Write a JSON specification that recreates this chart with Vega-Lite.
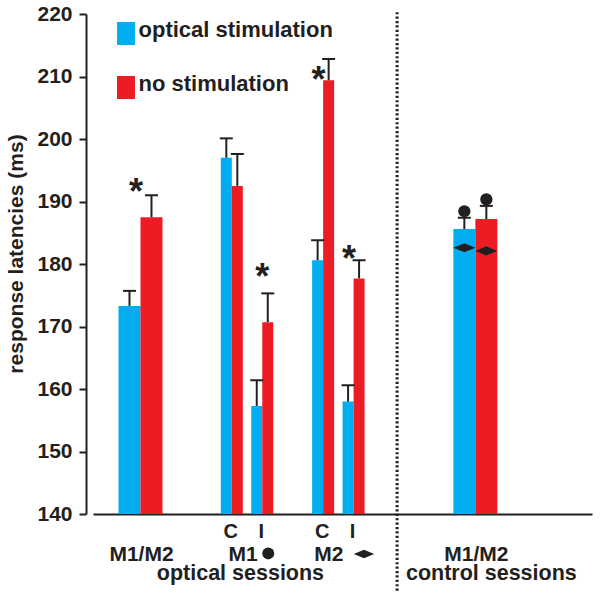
{
"$schema":"https://vega.github.io/schema/vega-lite/v6.json",
"width":506,"height":500,"autosize":"none",
"padding":{"left":86,"top":14,"right":9,"bottom":85},
"config":{
 "view":{"stroke":null},
 "font":"Liberation Sans",
 "axisX":{"labels":false,"ticks":false,"grid":false,"domainColor":"#231f20","domainWidth":2,"domainDash":[0,7,499,0],"domainCap":"butt"},
 "axisY":{"grid":false,"domainColor":"#231f20","domainWidth":2,"tickColor":"#231f20","tickWidth":2,"tickSize":7,"labelFont":"Liberation Sans","labelFontWeight":"bold","labelFontSize":21,"labelColor":"#231f20","labelPadding":7,"labelFlush":false,"labelOverlap":false}
},
"datasets":{
 "narrow":[
  {"slot":"M1 C","cond":"optical stimulation","mean":197.0,"err":200.1},
  {"slot":"M1 C","cond":"no stimulation","mean":192.5,"err":197.6},
  {"slot":"M1 I","cond":"optical stimulation","mean":157.3,"err":161.4},
  {"slot":"M1 I","cond":"no stimulation","mean":170.7,"err":175.3},
  {"slot":"M2 C","cond":"optical stimulation","mean":180.6,"err":183.8},
  {"slot":"M2 C","cond":"no stimulation","mean":209.4,"err":212.8},
  {"slot":"M2 I","cond":"optical stimulation","mean":158.0,"err":160.6},
  {"slot":"M2 I","cond":"no stimulation","mean":177.7,"err":180.6}
 ],
 "wide":[
  {"slot":"M1/M2 optical","cond":"optical stimulation","mean":173.3,"err":175.7},
  {"slot":"M1/M2 optical","cond":"no stimulation","mean":187.5,"err":191.0},
  {"slot":"M1/M2 control","cond":"optical stimulation","mean":185.6,"err":187.4,"marker":182.6},
  {"slot":"M1/M2 control","cond":"no stimulation","mean":187.2,"err":189.3,"marker":182.1}
 ]
},
"resolve":{"scale":{"xOffset":"independent"}},
"layer":[
 {"data":{"name":"narrow"},"mark":{"type":"bar"},
  "encoding":{
   "x":{"field":"slot","type":"nominal","axis":{"title":null},"scale":{"domain":["pad L","M1/M2 optical","gap a","gap b","M1 C","M1 I","gap c","M2 C","M2 I","gap d","gap e","gap f","M1/M2 control","pad R1","pad R2","pad R3"],"paddingInner":0,"paddingOuter":0.311,"align":0.466}},
   "xOffset":{"field":"cond","type":"nominal","scale":{"domain":["optical stimulation","no stimulation"],"range":[4.22,26.22]}},
   "y":{"field":"mean","type":"quantitative","scale":{"domain":[140,220],"zero":false,"nice":false},"axis":{"title":"response latencies (ms)","values":[140,150,160,170,180,190,200,210,220],"titleFont":"Liberation Sans","titleFontWeight":"bold","titleFontSize":21,"titleColor":"#231f20","titleX":-64,"titleY":239.5,"titleAlign":"center","titleBaseline":"alphabetic","titleAngle":270}},
   "y2":{"datum":140},
   "color":{"field":"cond","type":"nominal","scale":{"domain":["optical stimulation","no stimulation"],"range":["#00aeef","#ed1c24"]},
     "legend":{"title":null,"orient":"none","legendX":28.5,"legendY":11,"symbolType":"M-0.78,-1.26H0.78V0.74H-0.78Z","symbolSize":529,"symbolStrokeWidth":0,"symbolOpacity":1,"labelFont":"Liberation Sans","labelFontSize":22,"labelFontWeight":"bold","labelColor":"#231f20","labelOffset":1,"rowPadding":26,"padding":0,"labelLimit":400,"labelBaseline":"alphabetic"}}
  }},
 {"data":{"name":"wide"},"mark":{"type":"bar"},
  "encoding":{
   "x":{"field":"slot","type":"nominal","axis":{"title":null}},
   "xOffset":{"field":"cond","type":"nominal","scale":{"domain":["optical stimulation","no stimulation"],"range":[-6.78,37.22]}},
   "y":{"field":"mean","type":"quantitative"},
   "y2":{"datum":140},
   "color":{"field":"cond","type":"nominal",
     "legend":{"title":null,"orient":"none","legendX":28.5,"legendY":11,"symbolType":"M-0.78,-1.26H0.78V0.74H-0.78Z","symbolSize":529,"symbolStrokeWidth":0,"symbolOpacity":1,"labelFont":"Liberation Sans","labelFontSize":22,"labelFontWeight":"bold","labelColor":"#231f20","labelOffset":1,"rowPadding":26,"padding":0,"labelLimit":400,"labelBaseline":"alphabetic"}}
  }},
 {"data":{"name":"narrow"},"mark":{"type":"rule","strokeWidth":2,"color":"#231f20"},
  "encoding":{
   "x":{"field":"slot","type":"nominal","axis":{"title":null}},
   "xOffset":{"field":"cond","type":"nominal","scale":{"domain":["optical stimulation","no stimulation"],"range":[4.22,26.22]}},
   "y":{"field":"mean","type":"quantitative"},
   "y2":{"field":"err"}
  }},
 {"data":{"name":"narrow"},"mark":{"type":"tick","orient":"horizontal","size":13,"thickness":2,"color":"#231f20","opacity":1},
  "encoding":{
   "x":{"field":"slot","type":"nominal","axis":{"title":null}},
   "xOffset":{"field":"cond","type":"nominal","scale":{"domain":["optical stimulation","no stimulation"],"range":[4.22,26.22]}},
   "y":{"field":"err","type":"quantitative"}
  }},
 {"data":{"name":"wide"},"mark":{"type":"rule","strokeWidth":2,"color":"#231f20"},
  "encoding":{
   "x":{"field":"slot","type":"nominal","axis":{"title":null}},
   "xOffset":{"field":"cond","type":"nominal","scale":{"domain":["optical stimulation","no stimulation"],"range":[-6.78,37.22]}},
   "y":{"field":"mean","type":"quantitative"},
   "y2":{"field":"err"}
  }},
 {"data":{"name":"wide"},"mark":{"type":"tick","orient":"horizontal","size":13,"thickness":2,"color":"#231f20","opacity":1},
  "encoding":{
   "x":{"field":"slot","type":"nominal","axis":{"title":null}},
   "xOffset":{"field":"cond","type":"nominal","scale":{"domain":["optical stimulation","no stimulation"],"range":[-6.78,37.22]}},
   "y":{"field":"err","type":"quantitative"}
  }},
 {"data":{"name":"wide"},"transform":[{"filter":"isValid(datum.marker)"}],
  "mark":{"type":"point","shape":"circle","filled":true,"size":150,"color":"#231f20","opacity":1,"yOffset":-6.5},
  "encoding":{
   "x":{"field":"slot","type":"nominal","axis":{"title":null}},
   "xOffset":{"field":"cond","type":"nominal","scale":{"domain":["optical stimulation","no stimulation"],"range":[-6.78,37.22]}},
   "y":{"field":"err","type":"quantitative"}
  }},
 {"data":{"name":"wide"},"transform":[{"filter":"isValid(datum.marker)"}],
  "mark":{"type":"point","shape":"M-1,0L0,-0.42L1,0L0,0.42Z","filled":true,"size":484,"color":"#231f20","opacity":1},
  "encoding":{
   "x":{"field":"slot","type":"nominal","axis":{"title":null}},
   "xOffset":{"field":"cond","type":"nominal","scale":{"domain":["optical stimulation","no stimulation"],"range":[-6.78,37.22]}},
   "y":{"field":"marker","type":"quantitative"}
  }},
 {"data":{"values":[{"slot":"M1/M2 optical","label":"*","y":189.6},{"slot":"M2 C","label":"*","y":207.5},{"slot":"M2 I","label":"*","y":178.9}]},
  "mark":{"type":"text","fontSize":36,"fontWeight":"bold","font":"Liberation Sans","color":"#231f20","baseline":"alphabetic","dx":-4.6},
  "encoding":{"x":{"field":"slot","type":"nominal","axis":{"title":null}},"y":{"field":"y","type":"quantitative"},"text":{"field":"label"}}},
 {"data":{"values":[{"slot":"M1 I","label":"*","y":176.0}]},
  "mark":{"type":"text","fontSize":36,"fontWeight":"bold","font":"Liberation Sans","color":"#231f20","baseline":"alphabetic","dx":0},
  "encoding":{"x":{"field":"slot","type":"nominal","axis":{"title":null}},"y":{"field":"y","type":"quantitative"},"text":{"field":"label"}}},
 {"data":{"values":[{"slot":"gap d","top":220.3,"bottom":127.4}]},
  "mark":{"type":"rule","strokeWidth":3,"strokeDash":[2.2,2.2],"color":"#231f20"},
  "encoding":{"x":{"field":"slot","type":"nominal","bandPosition":0.93,"axis":{"title":null}},"y":{"field":"top","type":"quantitative"},"y2":{"field":"bottom"}}},
 {"data":{"values":[{"slot":"M1 C","label":"C"},{"slot":"M1 I","label":"I"},{"slot":"M2 C","label":"C"},{"slot":"M2 I","label":"I"}]},
  "mark":{"type":"text","fontSize":20,"fontWeight":"bold","font":"Liberation Sans","color":"#231f20","baseline":"alphabetic","dx":-1},
  "encoding":{"x":{"field":"slot","type":"nominal","axis":{"title":null}},"y":{"datum":136.16},"text":{"field":"label"}}},
 {"data":{"values":[{"slot":"M1/M2 optical","label":"M1/M2"},{"slot":"M1/M2 control","label":"M1/M2"}]},
  "mark":{"type":"text","fontSize":21,"fontWeight":"bold","font":"Liberation Sans","color":"#231f20","baseline":"alphabetic","dx":1},
  "encoding":{"x":{"field":"slot","type":"nominal","axis":{"title":null}},"y":{"datum":132.48},"text":{"field":"label"}}},
 {"data":{"values":[{"slot":"M1 C","label":"M1"}]},
  "mark":{"type":"text","fontSize":21,"fontWeight":"bold","font":"Liberation Sans","color":"#231f20","baseline":"alphabetic","dx":-4},
  "encoding":{"x":{"field":"slot","type":"nominal","bandPosition":1,"axis":{"title":null}},"y":{"datum":132.48},"text":{"field":"label"}}},
 {"data":{"values":[{"slot":"M2 C","label":"M2"}]},
  "mark":{"type":"text","fontSize":21,"fontWeight":"bold","font":"Liberation Sans","color":"#231f20","baseline":"alphabetic","dx":-9.4},
  "encoding":{"x":{"field":"slot","type":"nominal","bandPosition":1,"axis":{"title":null}},"y":{"datum":132.48},"text":{"field":"label"}}},
 {"data":{"values":[{"slot":"M1 I","y":133.7}]},
  "mark":{"type":"point","shape":"circle","filled":true,"size":144,"color":"#231f20","opacity":1,"xOffset":6},
  "encoding":{"x":{"field":"slot","type":"nominal","axis":{"title":null}},"y":{"field":"y","type":"quantitative"}}},
 {"data":{"values":[{"slot":"M2 I","y":133.6}]},
  "mark":{"type":"point","shape":"M-1,0L0,-0.42L1,0L0,0.42Z","filled":true,"size":420,"color":"#231f20","opacity":1,"xOffset":10.4},
  "encoding":{"x":{"field":"slot","type":"nominal","axis":{"title":null}},"y":{"field":"y","type":"quantitative"}}},
 {"data":{"values":[{"slot":"M1 C","label":"optical sessions"}]},
  "mark":{"type":"text","fontSize":21.5,"fontWeight":"bold","font":"Liberation Sans","color":"#231f20","baseline":"alphabetic","dx":-6.6},
  "encoding":{"x":{"field":"slot","type":"nominal","bandPosition":1,"axis":{"title":null}},"y":{"datum":129.44},"text":{"field":"label"}}},
 {"data":{"values":[{"slot":"M1/M2 control","label":"control sessions"}]},
  "mark":{"type":"text","fontSize":21.5,"fontWeight":"bold","font":"Liberation Sans","color":"#231f20","baseline":"alphabetic","dx":16},
  "encoding":{"x":{"field":"slot","type":"nominal","axis":{"title":null}},"y":{"datum":129.44},"text":{"field":"label"}}}
]
}
